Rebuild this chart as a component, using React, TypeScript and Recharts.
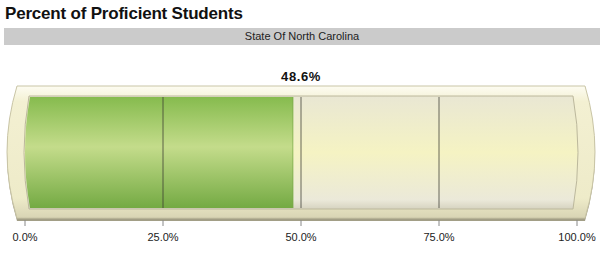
import React from 'react';
import { BarChart, Bar, XAxis, YAxis, ReferenceLine } from 'recharts';

const categories = ['State Of North Carolina'];
const proficientPct = [48.6];
const tickValues = [0, 25, 50, 75, 100];
const gridValues = [25, 50, 75];

const data = categories.map((name, i) => ({ name, value: proficientPct[i] }));

const W = 604;
const H = 273;
const FONT = 'Arial, "Liberation Sans", sans-serif';

// inner well outline: sides curve in by `inset` at the corners
const wellPath = (x: number, y: number, w: number, h: number, inset: number) => {
  const my = y + h / 2;
  return `M${x + inset},${y} L${x + w - inset},${y} Q${x + w + inset},${my} ${x + w - inset},${y + h} L${x + inset},${y + h} Q${x - inset},${my} ${x + inset},${y} Z`;
};

// outer bulb frame
const framePath = (x: number, y: number, w: number, h: number, pad: number, bulge: number) => {
  const l = x - pad;
  const r = x + w + pad;
  const t = y - 11;
  const b = y + h + 10;
  const my = (t + b) / 2;
  return `M${l},${t} L${r},${t} Q${2 * (x + w + bulge) - r},${my} ${r},${b} L${l},${b} Q${2 * (x - bulge) - l},${my} ${l},${t} Z`;
};

const renderFrame = (props: any) => {
  const { x, y, width, height } = props;
  return (
    <g>
      <path d={framePath(x, y + 3, width, height, 8, 18)} fill="#a29e86" />
      <path d={framePath(x, y, width, height, 8, 18)} fill="url(#frameGrad)" stroke="#c9c5a6" strokeWidth={1} />
      <path d={wellPath(x - 1, y - 1, width + 2, height + 2, 5)} fill="url(#creamGrad)" stroke="#bcb89c" strokeWidth={1} />
      <text
        x={x + width / 2}
        y={y - 16}
        textAnchor="middle"
        fontFamily={FONT}
        fontSize={13}
        fontWeight="bold"
        letterSpacing={0.6}
        fill="#111"
      >
        {proficientPct[0].toFixed(1)}%
      </text>
    </g>
  );
};

const renderFill = (props: any) => {
  const { x, y, width, height } = props;
  return (
    <g clipPath="url(#wellClip)">
      <rect x={x} y={y} width={width} height={height} fill="url(#greenGrad)" />
      <rect x={x + width - 1} y={y} width={1} height={height} fill="#7aa84a" opacity={0.6} />
    </g>
  );
};

const PctTick = (props: any) => {
  const { x, y, payload } = props;
  return (
    <g>
      <line x1={x} x2={x} y1={y} y2={y + 6} stroke="#888" strokeWidth={1} />
      <text x={x} y={y + 21} textAnchor="middle" fontFamily={FONT} fontSize={11} fill="#222">
        {payload.value.toFixed(1)}%
      </text>
    </g>
  );
};

export default function App() {
  return (
    <div style={{ position: 'absolute', left: 0, top: 0, width: W, height: H, background: '#fff' }}>
      <BarChart
        width={W}
        height={H}
        data={data}
        layout="vertical"
        barCategoryGap={0}
        margin={{ top: 97, right: 27, left: 25, bottom: 35 }}
      >
        <defs>
          <linearGradient id="frameGrad" x1="0" y1="0" x2="0" y2="1">
            <stop offset="0%" stopColor="#fdfcf2" />
            <stop offset="12%" stopColor="#f3f0d2" />
            <stop offset="85%" stopColor="#eeebc9" />
            <stop offset="100%" stopColor="#d8d4b4" />
          </linearGradient>
          <linearGradient id="creamGrad" x1="0" y1="0" x2="0" y2="1">
            <stop offset="0%" stopColor="#e9e7d3" />
            <stop offset="50%" stopColor="#f5f3c3" />
            <stop offset="92%" stopColor="#ebe9d9" />
            <stop offset="100%" stopColor="#d6d3c0" />
          </linearGradient>
          <linearGradient id="greenGrad" x1="0" y1="0" x2="0" y2="1">
            <stop offset="0%" stopColor="#86bb4e" />
            <stop offset="45%" stopColor="#c4dc8b" />
            <stop offset="100%" stopColor="#74aa43" />
          </linearGradient>
          <clipPath id="wellClip">
            <path d={wellPath(25, 97, 552, 111, 5)} />
          </clipPath>
        </defs>
        <XAxis
          type="number"
          domain={[0, 100]}
          ticks={tickValues}
          interval={0}
          axisLine={false}
          tickLine={false}
          tickSize={12}
          tickMargin={0}
          height={30}
          tick={<PctTick />}
        />
        <YAxis type="category" dataKey="name" hide />
        <Bar
          dataKey="value"
          background={renderFrame}
          shape={renderFill}
          isAnimationActive={false}
        />
        {gridValues.map((v) => (
          <ReferenceLine key={v} x={v} stroke="#3a3a30" strokeOpacity={0.75} strokeWidth={1} />
        ))}
      </BarChart>
      <div
        style={{
          position: 'absolute',
          left: 5,
          top: 5,
          fontFamily: FONT,
          fontWeight: 'bold',
          fontSize: 17,
          letterSpacing: -0.2,
          lineHeight: '18px',
          color: '#111',
          whiteSpace: 'nowrap',
        }}
      >
        Percent of Proficient Students
      </div>
      <div
        style={{
          position: 'absolute',
          left: 4,
          top: 28,
          width: 596,
          height: 17,
          background: '#cbcbcb',
          fontFamily: FONT,
          fontSize: 11,
          lineHeight: '17px',
          textAlign: 'center',
          color: '#222',
        }}
      >
        {categories[0]}
      </div>
    </div>
  );
}
